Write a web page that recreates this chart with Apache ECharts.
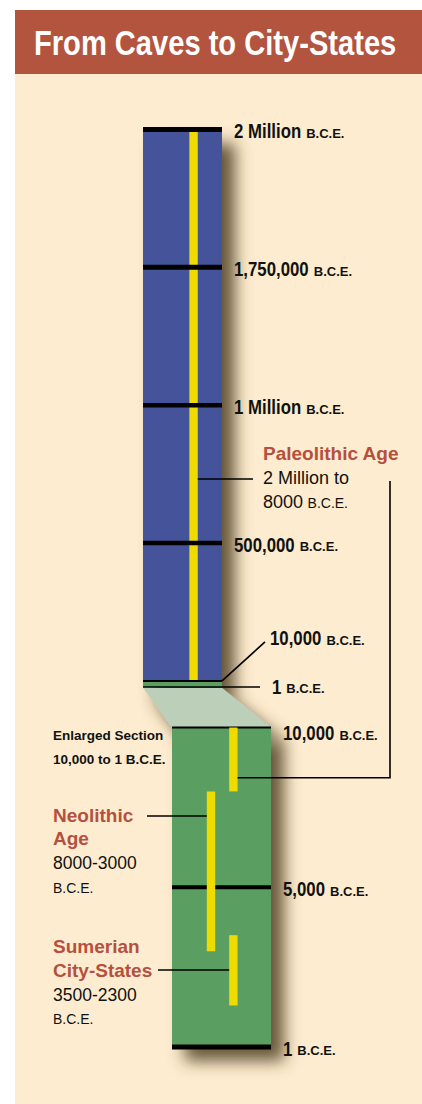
<!DOCTYPE html>
<html><head><meta charset="utf-8">
<script src="https://cdn.jsdelivr.net/npm/echarts@6/dist/echarts.min.js"></script>
<style>html,body{margin:0;padding:0;background:#fff;}#c{width:422px;height:1104px;}</style>
</head><body><div id="c"></div>
<script>
// ---------------- data ----------------
const titleText = 'From Caves to City-States';
const upperTickYears = [2000000, 1750000, 1000000, 500000, 10000, 1];
const upperTickLabels = ['2 Million', '1,750,000', '1 Million', '500,000', '10,000', '1'];
const lowerTickYears = [10000, 5000, 1];
const lowerTickLabels = ['10,000', '5,000', '1'];
const unitLabel = 'B.C.E.';
const eraNames = ['Paleolithic Age', 'Neolithic Age', 'Sumerian City-States'];
const eraStartYears = [2000000, 8000, 3500];
const eraEndYears = [8000, 3000, 1300];          // bar ends as drawn in the picture
const eraRangeLabels = ['2 Million to', '8000-3000', '3500-2300'];
const enlargedNote = ['Enlarged Section', '10,000 to 1 B.C.E.'];

// ---------------- layout / style ----------------
const G0 = {left: 143, top: 129.5, width: 79, height: 557.5};
const G1 = {left: 172, top: 727.5, width: 99, height: 319.5};
const C = {blue: '#45549a', green: '#5a9e62', yellow: '#efdb00', pale: '#bccfb8',
  cream: '#fdeccf', brick: '#b3543f', red: '#b5503f', ink: '#111111'};
const SH = {shadowBlur: 16, shadowColor: 'rgba(78,60,32,0.85)', shadowOffsetX: 13, shadowOffsetY: 14};
const F = '"Liberation Sans", Arial, Helvetica, sans-serif';
const NARROW = 0.84;                 // horizontal squeeze for the condensed display face
const STRIP = 0.044;                 // height of the compressed 10,000-1 strip (in tick steps)
const upperLane = 0.64, eraLanes = [0.62, 0.394, 0.62], BAR_W = 8.4;

const mctx = document.createElement('canvas').getContext('2d');
function measure(font, text) { mctx.font = font; return mctx.measureText(text).width; }

// schematic (equal-step) scale of the upper column
const steps = upperTickYears.slice(0, 5);
function upperPos(year) {
  if (year <= steps[4]) return 4 + (steps[4] - year) / (steps[4] - 1) * STRIP;
  for (let i = 0; i < 4; i++) {
    const a = steps[i], b = steps[i + 1];
    if (year <= a && year >= b) return i + (a - year) / (a - b);
  }
  return 0;
}

const numFont = 'bold 20px ' + F;
const unitFont = 'bold 13px ' + F;
const upperTickThick = [5, 5, 4.5, 4.5, 2, 1.6];
const lowerTickThick = [2, 4, 5];

function colSeries(name, grid, rows, fills, z, shadow) {
  return {
    type: 'custom', name, xAxisIndex: grid, yAxisIndex: grid, z, silent: true,
    data: rows,
    renderItem(params, api) {
      const cs = params.coordSys;
      const y0 = api.coord([0, api.value(0)])[1];
      const y1 = api.coord([0, api.value(1)])[1];
      const style = Object.assign({fill: fills[params.dataIndex]}, shadow ? SH : {});
      return {type: 'rect', shape: {x: cs.x, y: Math.min(y0, y1), width: cs.width, height: Math.abs(y1 - y0)}, style};
    }
  };
}

function barSeries(name, grid, rows, z) {
  return {
    type: 'custom', name, xAxisIndex: grid, yAxisIndex: grid, z, silent: true,
    data: rows,
    renderItem(params, api) {
      const p0 = api.coord([api.value(0), api.value(1)]);
      const p1 = api.coord([api.value(0), api.value(2)]);
      return {type: 'rect', shape: {x: p0[0] - BAR_W / 2, y: Math.min(p0[1], p1[1]), width: BAR_W, height: Math.abs(p1[1] - p0[1])},
        style: {fill: C.yellow}};
    }
  };
}

function tickSeries(name, grid, rows, labels, thick, labelLayout, z) {
  return {
    type: 'custom', name, xAxisIndex: grid, yAxisIndex: grid, z, silent: true,
    data: rows,
    renderItem(params, api) {
      const cs = params.coordSys, i = params.dataIndex;
      const py = api.coord([0, api.value(0)])[1];
      const right = cs.x + cs.width;
      const L = labelLayout[i] || {};
      const dx = L.dx != null ? L.dx : 12, dy = L.dy != null ? L.dy : 1.5;
      const lx = right + dx, ly = py + dy;
      const w = measure(numFont, labels[i]) * NARROW;
      const children = [
        {type: 'rect', shape: {x: cs.x, y: py - thick[i] / 2, width: cs.width, height: thick[i]}, style: {fill: '#000'}},
        {type: 'text', x: lx, y: ly, scaleX: NARROW,
          style: {text: labels[i], font: numFont, fill: C.ink, align: 'left', verticalAlign: 'middle'}},
        {type: 'text', x: lx + w + 5, y: ly + 2.4,
          style: {text: unitLabel, font: unitFont, fill: C.ink, align: 'left', verticalAlign: 'middle'}}
      ];
      if (L.leader) {
        children.push({type: 'line', shape: {x1: right, y1: py, x2: right + L.leader[0], y2: py + L.leader[1]},
          style: {stroke: '#000', lineWidth: 1.6}});
      }
      return {type: 'group', children};
    }
  };
}

const upperLabelLayout = {4: {dx: 48, dy: -43, leader: [43, -39]}, 5: {dx: 50, dy: -0.5, leader: [38, 0]}};
const lowerLabelLayout = {0: {dy: 5.5}, 2: {dy: 1.5}};

// era bars split over the two columns
const upperEraRows = [];
const lowerEraRows = [];
eraNames.forEach((n, i) => {
  if (eraStartYears[i] > lowerTickYears[0]) {
    upperEraRows.push([upperLane, upperPos(eraStartYears[i]), upperPos(Math.max(eraEndYears[i], lowerTickYears[0]))]);
  }
  if (eraEndYears[i] < lowerTickYears[0]) {
    lowerEraRows.push([eraLanes[i], Math.min(eraStartYears[i], lowerTickYears[0]), eraEndYears[i]]);
  }
});

const upperTop = upperPos(upperTickYears[0]), upperMid = upperPos(lowerTickYears[0]), upperBot = upperPos(1);

const option = {
  animation: false,
  backgroundColor: '#ffffff',
  grid: [
    Object.assign({containLabel: false}, G0),
    Object.assign({containLabel: false}, G1)
  ],
  xAxis: [
    {type: 'value', gridIndex: 0, min: 0, max: 1, show: false},
    {type: 'value', gridIndex: 1, min: 0, max: 1, show: false}
  ],
  yAxis: [
    {type: 'value', gridIndex: 0, min: 0, max: 4 + STRIP, inverse: true, show: false},
    {type: 'value', gridIndex: 1, min: 1, max: 10000, show: false}
  ],
  series: [
    colSeries('upperShadow', 0, [[upperTop, upperBot]], [C.blue], 2, true),
    colSeries('lowerShadow', 1, [[lowerTickYears[0], 1]], [C.green], 2, true),
    colSeries('upperColumn', 0, [[upperTop, upperMid], [upperMid, upperBot]], [C.blue, C.green], 4, false),
    colSeries('lowerColumn', 1, [[lowerTickYears[0], 1]], [C.green], 4, false),
    barSeries('upperEras', 0, upperEraRows, 5),
    tickSeries('upperTicks', 0, upperTickYears.map(upperPos).map(v => [v]), upperTickLabels, upperTickThick, upperLabelLayout, 6),
    tickSeries('lowerTicks', 1, lowerTickYears.map(v => [v]), lowerTickLabels, lowerTickThick, lowerLabelLayout, 6),
    barSeries('lowerEras', 1, lowerEraRows, 7)
  ]
};

const chart = echarts.init(document.getElementById('c'), null, {renderer: 'svg', width: 422, height: 1104});
chart.setOption(option);

// ---------- annotation layer (anchored to the library's coordinates) ----------
const pUL = chart.convertToPixel({gridIndex: 0}, [0, upperBot]);
const pUR = chart.convertToPixel({gridIndex: 0}, [1, upperBot]);
const pLL = chart.convertToPixel({gridIndex: 1}, [0, lowerTickYears[0]]);
const pLR = chart.convertToPixel({gridIndex: 1}, [1, lowerTickYears[0]]);
const upBarRight = chart.convertToPixel({gridIndex: 0}, [upperLane, 0])[0] + BAR_W / 2;
const paleoLowX = chart.convertToPixel({gridIndex: 1}, [eraLanes[0], 9000]);
const neoLeftX = chart.convertToPixel({gridIndex: 1}, [eraLanes[1], 5000])[0] - BAR_W / 2;
const sumLeftX = chart.convertToPixel({gridIndex: 1}, [eraLanes[2], 3000])[0] - BAR_W / 2;

function txt(x, y, text, font, fill, extra) {
  return Object.assign({type: 'text', x, y, z: 20,
    style: {text, font, fill: fill || C.ink, align: 'left', verticalAlign: 'middle',
      textAlign: 'left', textVerticalAlign: 'middle'}}, extra || {});
}
function pair(x, y, a, b, fa, fb, dyb) {
  const w = measure(fa, a);
  return [txt(x, y, a, fa), txt(x + w + 4.5, y + dyb, b, fb)];
}
function line(pts, z) {
  return {type: 'polyline', z: z || 20, shape: {points: pts}, style: {stroke: '#000', lineWidth: 1.6, fill: null}};
}
const redBold = 'bold 19px ' + F;
const reg = '18px ' + F;

chart.setOption({
  graphic: [
    {type: 'rect', z: -10, shape: {x: 15, y: 10, width: 407, height: 64}, style: {fill: C.brick}},
    {type: 'rect', z: -10, shape: {x: 15, y: 74, width: 407, height: 1030}, style: {fill: C.cream}},
    txt(34, 42.5, titleText, 'bold 35.5px ' + F, '#ffffff', {scaleX: 0.82}),
    // trapezoid linking the strip to the enlarged section
    {type: 'polygon', z: 3, shape: {points: [[pUL[0], pUL[1] + 0.8], [pUR[0], pUR[1] + 0.8], [pLR[0], pLR[1]], [pLL[0], pLL[1]]]},
      style: Object.assign({fill: C.pale}, SH)},
    // Paleolithic
    txt(263, 453, eraNames[0], redBold, C.red),
    txt(263, 477.5, eraRangeLabels[0], reg),
    ...pair(263, 502, '8000', unitLabel, reg, '14px ' + F, 1.4),
    line([[upBarRight, 479], [253, 479]]),
    line([[paleoLowX[0] + BAR_W / 2, 777.7], [390, 777.7], [390, 481]]),
    // Enlarged note
    txt(53, 735, enlargedNote[0], 'bold 13.5px ' + F),
    txt(53, 759, enlargedNote[1], 'bold 13.5px ' + F),
    // Neolithic
    txt(53, 815, 'Neolithic', redBold, C.red),
    txt(53, 838.5, 'Age', redBold, C.red),
    txt(53, 863, eraRangeLabels[1], '17.5px ' + F),
    txt(53, 888, unitLabel, '14px ' + F),
    line([[147, 816], [neoLeftX, 816]]),
    // Sumerian
    txt(53, 946.5, 'Sumerian', redBold, C.red),
    txt(53, 970.5, 'City-States', redBold, C.red),
    txt(53, 995, eraRangeLabels[2], '17.5px ' + F),
    txt(53, 1018.5, unitLabel, '14px ' + F),
    line([[158, 970], [sumLeftX, 970]])
  ]
});
</script>
</body></html>
